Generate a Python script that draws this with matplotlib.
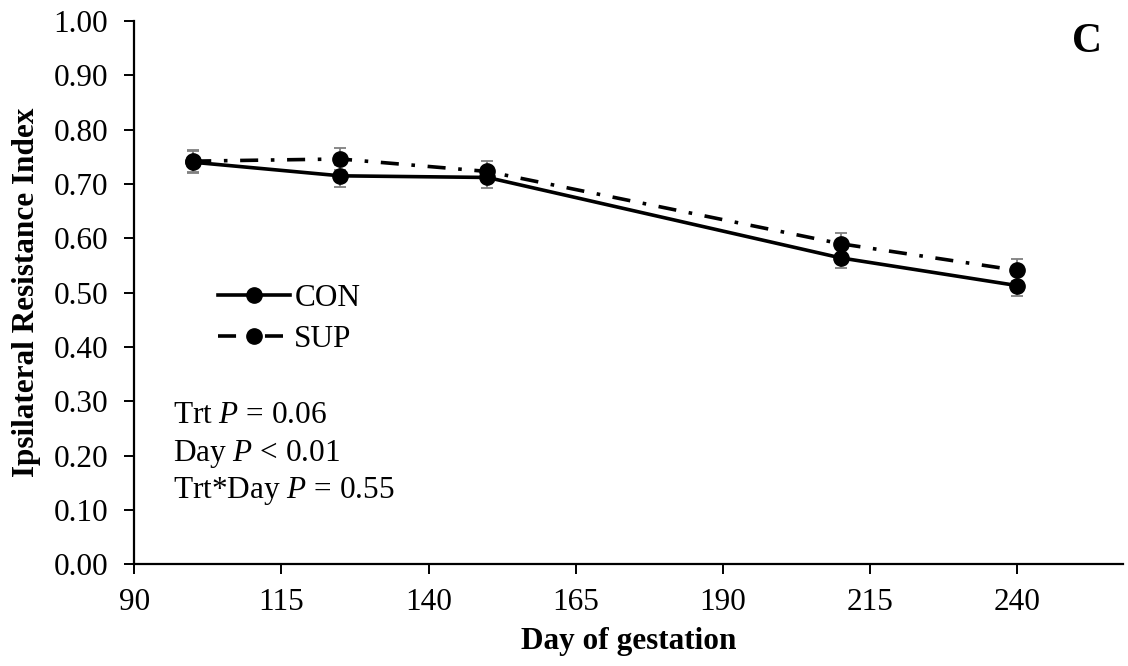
import numpy as np
import matplotlib
matplotlib.use("Agg")
import matplotlib.pyplot as plt
from matplotlib.ticker import FormatStrFormatter

# ----------------------------
# Data
# ----------------------------
days = [100, 125, 150, 210, 240]
con_mean = [0.740, 0.715, 0.712, 0.564, 0.513]
con_err = [0.020, 0.020, 0.020, 0.019, 0.020]
sup_mean = [0.742, 0.746, 0.723, 0.590, 0.541]
sup_err = [0.020, 0.020, 0.020, 0.020, 0.020]
series_labels = ["CON", "SUP"]
x_ticks = [90, 115, 140, 165, 190, 215, 240]
y_ticks = [0.0, 0.1, 0.2, 0.3, 0.4, 0.5, 0.6, 0.7, 0.8, 0.9, 1.0]
stats_lines = ["Trt $P$ = 0.06", "Day $P$ < 0.01", "Trt*Day $P$ = 0.55"]

# ----------------------------
# Style
# ----------------------------
plt.rcParams["font.family"] = ["Liberation Serif", "DejaVu Serif"]
plt.rcParams["mathtext.fontset"] = "custom"
plt.rcParams["mathtext.rm"] = "Liberation Serif"
plt.rcParams["mathtext.it"] = "Liberation Serif:italic"
fs = 22.5
err_color = "#808080"

fig = plt.figure(figsize=(11.28, 6.66), dpi=100)
ax = fig.add_axes([0.1191, 0.1527, 0.8765, 0.8158])

# error bars first, markers on top
for mean, err in [(con_mean, con_err), (sup_mean, sup_err)]:
    ax.errorbar(days, mean, yerr=err, fmt="none", ecolor=err_color,
                elinewidth=1.3, capsize=4.5, capthick=1.3, zorder=2)

ax.plot(days, sup_mean, color="black", linewidth=2.6, dashes=(5, 3.5, 1, 3.5),
        marker="o", markersize=11, label=series_labels[1], zorder=3)
ax.plot(days, con_mean, color="black", linewidth=2.6, linestyle="-",
        marker="o", markersize=11, label=series_labels[0], zorder=4)

ax.set_xlim(90, 258)
ax.set_ylim(0, 1.0)
ax.set_xticks(x_ticks)
ax.set_yticks(y_ticks)
ax.yaxis.set_major_formatter(FormatStrFormatter("%.2f"))

for side in ["top", "right"]:
    ax.spines[side].set_visible(False)
for side in ["left", "bottom"]:
    ax.spines[side].set_linewidth(1.6)
ax.tick_params(axis="both", direction="out", length=7, width=1.4,
               labelsize=fs, color="black")
ax.tick_params(axis="y", pad=12)
ax.tick_params(axis="x", pad=10)

ax.set_xlabel("Day of gestation", fontsize=fs, fontweight="bold", labelpad=7)
ax.set_ylabel("Ipsilateral Resistance Index", fontsize=fs, fontweight="bold",
              labelpad=9)

# legend, CON above SUP
handles, labels = ax.get_legend_handles_labels()
order = [1, 0]
fig.legend([handles[i] for i in order], [labels[i] for i in order],
           loc="center left", bbox_to_anchor=(0.193, 0.521),
           frameon=False, fontsize=fs, handlelength=2.3, handletextpad=0.15,
           labelspacing=0.4, borderpad=0, borderaxespad=0)

# statistics text
baselines = [423, 461, 498]
for line, yb in zip(stats_lines, baselines):
    fig.text(173 / 1128, 1 - yb / 666, line, fontsize=fs, va="baseline",
             ha="left")

# panel letter
fig.text(1087 / 1128, 1 - 42 / 666, "C", fontsize=30, fontweight="bold",
         ha="center", va="center")

fig.savefig("out.png", dpi=100)
